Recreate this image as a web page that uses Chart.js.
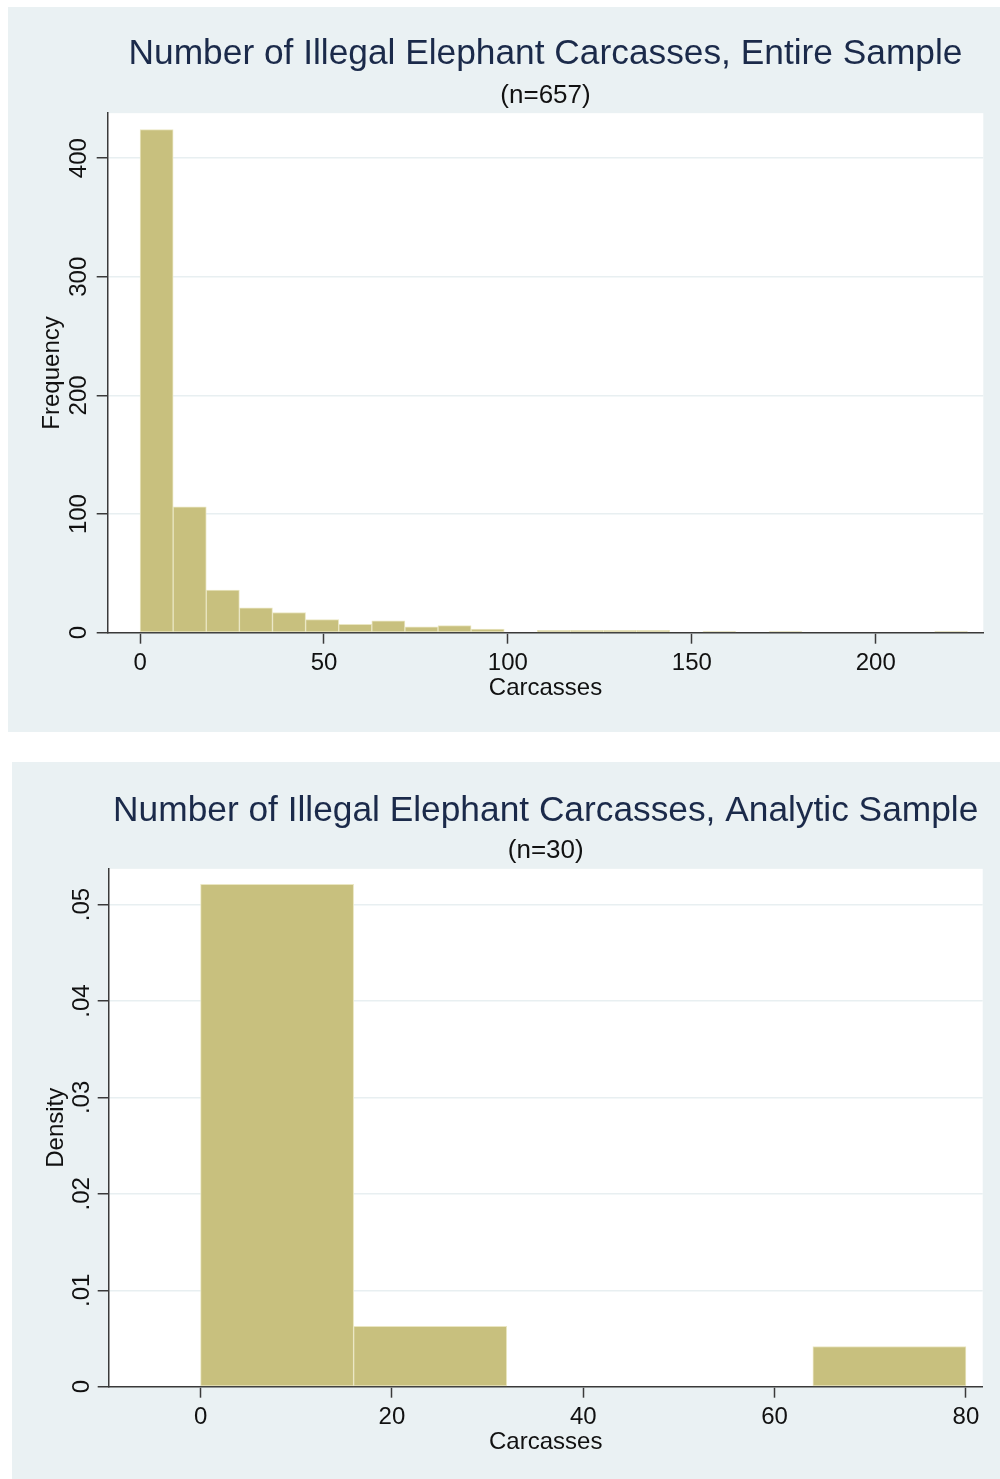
<!DOCTYPE html>
<html>
<head>
<meta charset="utf-8">
<script src="https://cdn.jsdelivr.net/npm/chart.js@4.4.1/dist/chart.umd.min.js"></script>
<style>
  html, body { margin: 0; padding: 0; background: #ffffff; }
  body { width: 1000px; height: 1479px; position: relative; overflow: hidden; }
  .panel { position: absolute; background: #eaf1f3; }
  #p1 { left: 8px; top: 7px; width: 992px; height: 725px; }
  #p2 { left: 12px; top: 762px; width: 988px; height: 717px; }
  canvas { display: block; }
</style>
</head>
<body>
<div class="panel" id="p1"><canvas id="c1" width="992" height="725"></canvas></div>
<div class="panel" id="p2"><canvas id="c2" width="988" height="717"></canvas></div>
<script>
// ---- Data: Entire sample (frequency histogram, 25 bins of width 9) ----
const entireBinCenters = [4.5, 13.5, 22.5, 31.5, 40.5, 49.5, 58.5, 67.5, 76.5, 85.5,
  94.5, 103.5, 112.5, 121.5, 130.5, 139.5, 148.5, 157.5, 166.5, 175.5,
  184.5, 193.5, 202.5, 211.5, 220.5];
const entireFrequencies = [424, 106, 36, 21, 17, 11, 7, 10, 5, 6,
  3, 0, 2, 2, 2, 2, 0, 1, 0, 1,
  0, 0, 0, 0, 1];
const entireXTicks = [0, 50, 100, 150, 200];
const entireYTicks = [0, 100, 200, 300, 400];
const entireYTickLabels = ['0', '100', '200', '300', '400'];

// ---- Data: Analytic sample (density histogram, 5 bins of width 16) ----
const analyticBinCenters = [8, 24, 40, 56, 72];
const analyticDensities = [0.0521, 0.00625, 0, 0, 0.00417];
const analyticXTicks = [0, 20, 40, 60, 80];
const analyticYTicks = [0, 0.01, 0.02, 0.03, 0.04, 0.05];
const analyticYTickLabels = ['0', '.01', '.02', '.03', '.04', '.05'];

const titleEntire = 'Number of Illegal Elephant Carcasses, Entire Sample';
const subtitleEntire = '(n=657)';
const titleAnalytic = 'Number of Illegal Elephant Carcasses, Analytic Sample';
const subtitleAnalytic = '(n=30)';

// ---- Styling ----
const FONT = "'Liberation Sans', Arial, Helvetica, sans-serif";
const BAR_FILL = 'rgb(200,192,126)';
const BAR_EDGE = 'rgb(234,230,194)';
const AXIS_COLOR = '#3a3a3a';
const GRID_COLOR = '#e8eff1';

const whiteArea = {
  id: 'whiteArea',
  beforeDraw(chart) {
    const { ctx, chartArea: a } = chart;
    ctx.save();
    ctx.fillStyle = '#ffffff';
    ctx.fillRect(a.left, a.top, a.right - a.left, a.bottom - a.top);
    ctx.restore();
  }
};

function makeHist(canvasId, g) {
  const points = g.centers.map((c, i) => ({ x: c, y: g.values[i] }));
  return new Chart(document.getElementById(canvasId), {
    type: 'bar',
    data: {
      datasets: [{
        data: points,
        backgroundColor: BAR_FILL,
        borderColor: BAR_EDGE,
        borderWidth: 1,
        borderSkipped: false,
        barPercentage: 1.0,
        categoryPercentage: 1.0
      }]
    },
    plugins: [whiteArea],
    options: {
      responsive: false,
      animation: false,
      devicePixelRatio: 1,
      layout: { padding: { left: 0, right: g.padRight, top: 0, bottom: g.padBottom } },
      plugins: {
        legend: { display: false },
        tooltip: { enabled: false },
        title: {
          display: true,
          text: g.title,
          fullSize: false,
          color: '#1b2a4a',
          font: { family: FONT, size: 35.3, weight: 'normal', lineHeight: 1.2 },
          padding: { top: g.titleTop, bottom: 0 }
        },
        subtitle: {
          display: true,
          text: g.subtitle,
          fullSize: false,
          color: '#111111',
          font: { family: FONT, size: 26, weight: 'normal', lineHeight: 1.2 },
          padding: { top: g.subTop, bottom: g.subBottom }
        }
      },
      scales: {
        x: {
          type: 'linear',
          position: 'bottom',
          min: g.xMin,
          max: g.xMax,
          offset: false,
          afterBuildTicks: (s) => { s.ticks = g.xTicks.map(v => ({ value: v })); },
          afterFit: (s) => { s.height = 80; },
          ticks: {
            color: '#111111',
            font: { family: FONT, size: 24 },
            padding: 5.5,
            maxRotation: 0,
            minRotation: 0,
            autoSkip: false,
            callback: (v) => String(v)
          },
          grid: {
            offset: false,
            drawOnChartArea: false,
            drawTicks: true,
            tickLength: 11,
            tickColor: AXIS_COLOR,
            tickWidth: 1.5
          },
          border: { display: true, color: AXIS_COLOR, width: 1.5 },
          title: {
            display: true,
            text: 'Carcasses',
            color: '#111111',
            font: { family: FONT, size: 24 },
            padding: { top: 0, bottom: 9.5 }
          }
        },
        y: {
          type: 'linear',
          position: 'left',
          min: 0,
          max: g.yMax,
          afterBuildTicks: (s) => { s.ticks = g.yTicks.map(v => ({ value: v })); },
          afterFit: (s) => { s.width = g.chartLeft; },
          ticks: {
            color: '#111111',
            font: { family: FONT, size: 24 },
            padding: g.yTickPad,
            minRotation: 90,
            maxRotation: 90,
            crossAlign: 'center',
            autoSkip: false,
            callback: (v, i) => g.yLabels[i]
          },
          grid: {
            color: GRID_COLOR,
            lineWidth: 1.5,
            drawTicks: true,
            tickLength: 11,
            tickColor: AXIS_COLOR,
            tickWidth: 1.5
          },
          border: { display: true, color: AXIS_COLOR, width: 1.5 },
          title: {
            display: true,
            text: g.yTitle,
            color: '#111111',
            font: { family: FONT, size: 24 },
            padding: { top: 29.6, bottom: 0 }
          }
        }
      }
    }
  });
}

makeHist('c1', {
  centers: entireBinCenters,
  values: entireFrequencies,
  xTicks: entireXTicks,
  yTicks: entireYTicks,
  yLabels: entireYTickLabels,
  xMin: -8.8, xMax: 229.25,
  yMax: 437.9,
  title: titleEntire,
  subtitle: subtitleEntire,
  yTitle: 'Frequency',
  chartLeft: 99.7,
  padRight: 16.7,
  padBottom: 19.3,
  titleTop: 26.5,
  subTop: 4.4,
  subBottom: 1.7,
  yTickPad: -2.8
});

makeHist('c2', {
  centers: analyticBinCenters,
  values: analyticDensities,
  xTicks: analyticXTicks,
  yTicks: analyticYTicks,
  yLabels: analyticYTickLabels,
  xMin: -9.6, xMax: 81.75,
  yMax: 0.0537,
  title: titleAnalytic,
  subtitle: subtitleAnalytic,
  yTitle: 'Density',
  chartLeft: 96.7,
  padRight: 17.3,
  padBottom: 12.3,
  titleTop: 28,
  subTop: 2.9,
  subBottom: 2.4,
  yTickPad: -1
});
</script>
</body>
</html>
